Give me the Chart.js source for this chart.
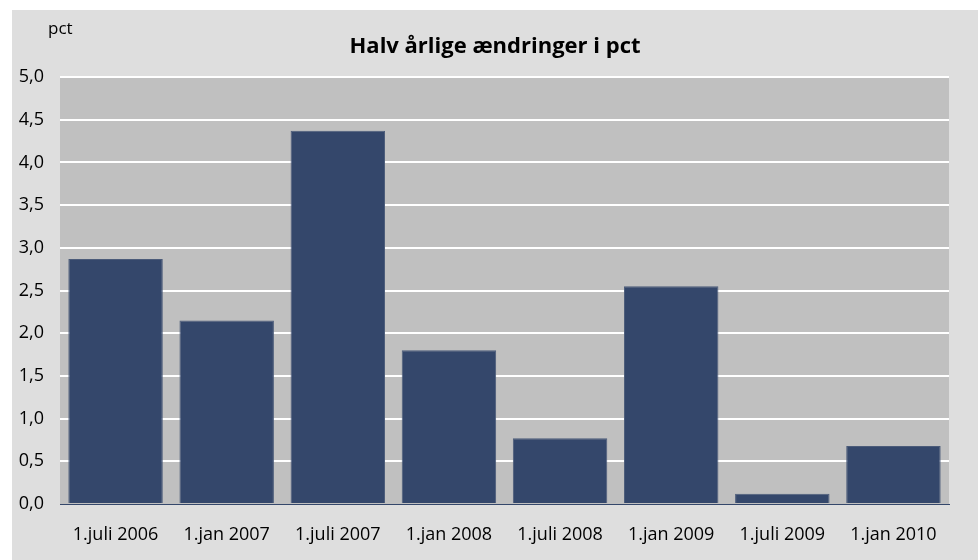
<!DOCTYPE html>
<html>
<head>
<meta charset="utf-8">
<script src="https://cdn.jsdelivr.net/npm/chart.js@4"></script>
<style>
  html, body { margin: 0; padding: 0; background: #ffffff; }
  #c { display: block; }
</style>
</head>
<body>
<canvas id="c" width="978" height="560"></canvas>
<script>
const categories = ['1.juli 2006', '1.jan 2007', '1.juli 2007', '1.jan 2008', '1.juli 2008', '1.jan 2009', '1.juli 2009', '1.jan 2010'];
const values = [2.87, 2.15, 4.37, 1.80, 0.77, 2.55, 0.12, 0.68];
const yMin = 0;
const yMax = 5;
const yStep = 0.5;
const titleText = 'Halv årlige ændringer i pct';
const unitText = 'pct';

const FONT = "'Open Sans', 'Liberation Sans', sans-serif";

const bgPlugin = {
  id: 'bgPlugin',
  beforeDraw(chart) {
    const ctx = chart.ctx;
    const a = chart.chartArea;
    ctx.save();
    ctx.fillStyle = '#ffffff';
    ctx.fillRect(0, 0, chart.width, chart.height);
    ctx.fillStyle = '#dedede';
    ctx.fillRect(12, 10, chart.width - 12, chart.height - 10);
    ctx.fillStyle = '#c0c0c0';
    ctx.fillRect(a.left, a.top, a.right - a.left, a.bottom - a.top);
    ctx.restore();
  },
  afterDraw(chart) {
    const ctx = chart.ctx;
    ctx.save();
    ctx.fillStyle = '#000000';
    ctx.font = "17px " + FONT;
    ctx.textAlign = 'left';
    ctx.textBaseline = 'middle';
    ctx.fillText(unitText, 48, 29);
    ctx.restore();
  }
};

Chart.defaults.font.family = FONT;
Chart.defaults.color = '#000000';

new Chart(document.getElementById('c'), {
  type: 'bar',
  data: {
    labels: categories,
    datasets: [{
      data: values,
      backgroundColor: '#34476b',
      borderColor: '#4b5b79',
      borderWidth: 1,
      barPercentage: 0.85,
      categoryPercentage: 1.0
    }]
  },
  options: {
    responsive: false,
    devicePixelRatio: 1,
    animation: false,
    layout: { padding: { left: 12, right: 0, top: 0, bottom: 0 } },
    plugins: {
      legend: { display: false },
      tooltip: { enabled: false },
      title: {
        display: true,
        text: titleText,
        font: { size: 22, weight: 'bold', family: FONT, lineHeight: 1.2 },
        color: '#000000',
        padding: { top: 34, bottom: 16.6 }
      }
    },
    scales: {
      x: {
        grid: { display: false, drawTicks: false },
        border: { display: true, color: '#34476b', width: 1 },
        ticks: { font: { size: 18 }, padding: 20, maxRotation: 0, autoSkip: false },
        afterFit(scale) { scale.height = 56; }
      },
      y: {
        min: yMin,
        max: yMax,
        grid: {
          color: (ctx) => (ctx.tick && ctx.tick.value === 0 ? 'rgba(0,0,0,0)' : '#ffffff'),
          lineWidth: 2,
          drawTicks: false
        },
        border: { display: false },
        ticks: {
          stepSize: yStep,
          font: { size: 18 },
          padding: 16,
          callback: (v) => Number(v).toFixed(1).replace('.', ',')
        },
        afterFit(scale) { scale.width = 48; }
      },
      yRightMargin: {
        position: 'right',
        display: true,
        min: yMin,
        max: yMax,
        grid: { display: false, drawTicks: false },
        border: { display: false },
        ticks: { display: false },
        afterFit(scale) { scale.width = 29; }
      }
    }
  },
  plugins: [bgPlugin]
});
</script>
</body>
</html>
